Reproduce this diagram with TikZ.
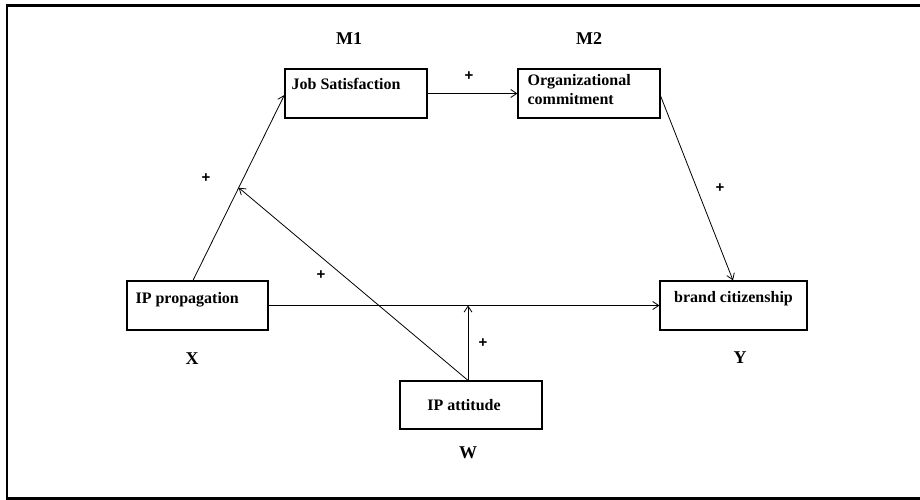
\documentclass[tikz,border=0pt]{standalone}
\usepackage{fontspec}
\setmainfont{Liberation Serif}
\newfontfamily\plusfont{Liberation Sans}
\usetikzlibrary{arrows.meta,calc}
\begin{document}
\begin{tikzpicture}[x=1pt,y=-1pt,
  box/.style={draw, line width=1.2pt, inner sep=0pt, minimum height=49pt},
  txt/.style={font=\fontsize{16}{18.5}\selectfont\bfseries, inner sep=0pt},
  lab/.style={font=\fontsize{18}{20}\selectfont\bfseries, inner sep=0pt},
  pl/.style={font=\plusfont\fontsize{15}{15}\selectfont\bfseries, inner sep=0pt},
  arr/.style={line width=0.8pt, -{Straight Barb[length=6pt,width=8pt]}},
]
\useasboundingbox (0,0) rectangle (920,500);
\draw[line width=2.4pt] (921,5.7) -- (7,5.7) -- (7,498.3) -- (921,498.3);

% boxes
\node[box, minimum width=142pt] (js) at (356,93.5) {};
\node[box, minimum width=142pt] (oc) at (589,93.5) {};
\node[box, minimum width=141pt] (ipp) at (197.5,305.5) {};
\node[box, minimum width=147pt] (bc) at (733.5,305.5) {};
\node[box, minimum width=142pt, minimum height=48pt] (ipa) at (471,405) {};

% box texts
\node[txt, anchor=base west] (tjs) at ([xshift=7pt,yshift=-21pt]js.north west) {Job Satisfaction};
\node[txt, anchor=base west, align=left] (toc) at ([xshift=10pt,yshift=-36pt]oc.north west) {Organizational\\commitment};
\node[txt, anchor=base west] (tipp) at ([xshift=9pt,yshift=-23pt]ipp.north west) {IP propagation};
\node[txt, anchor=base] (tbc) at ([yshift=-21.7pt]bc.north) {brand citizenship};
\node[txt, anchor=base] (tipa) at ([xshift=-7pt,yshift=-30pt]ipa.north) {IP attitude};

% variable labels
\node[lab] (m1) at (349,39) {M1};
\node[lab] (m2) at (589,39) {M2};
\node[lab] (lx) at (192,359) {X};
\node[lab] (ly) at (740,358) {Y};
\node[lab] (lw) at (468,453) {W};

% plus signs
\node[pl] (p1) at (469,76) {+};
\node[pl] (p2) at (206,178) {+};
\node[pl] (p3) at (321,275) {+};
\node[pl] (p4) at (483,343) {+};
\node[pl] (p5) at (720,188) {+};

% connectors
\draw[arr] (js.east) -- (oc.west);
\draw[arr] (ipp.east) -- (bc.west);
\coordinate (a1) at ([xshift=-4.5pt]ipp.north);
\coordinate (a2) at ([yshift=-1.5pt]js.west);
\draw[arr] (a1) -- (a2);
\draw[arr] ([yshift=-2.5pt]oc.east) -- ([xshift=-0.5pt]bc.north);
\coordinate (hx) at ($(a1)!0.5!(a2)$);
\coordinate (ipat) at ([xshift=-3pt]ipa.north);
\draw[arr] (ipat) -- (hx);
\coordinate (hm) at (ipat |- ipp.east);
\draw[arr] (ipat) -- (hm);
\end{tikzpicture}
\end{document}
